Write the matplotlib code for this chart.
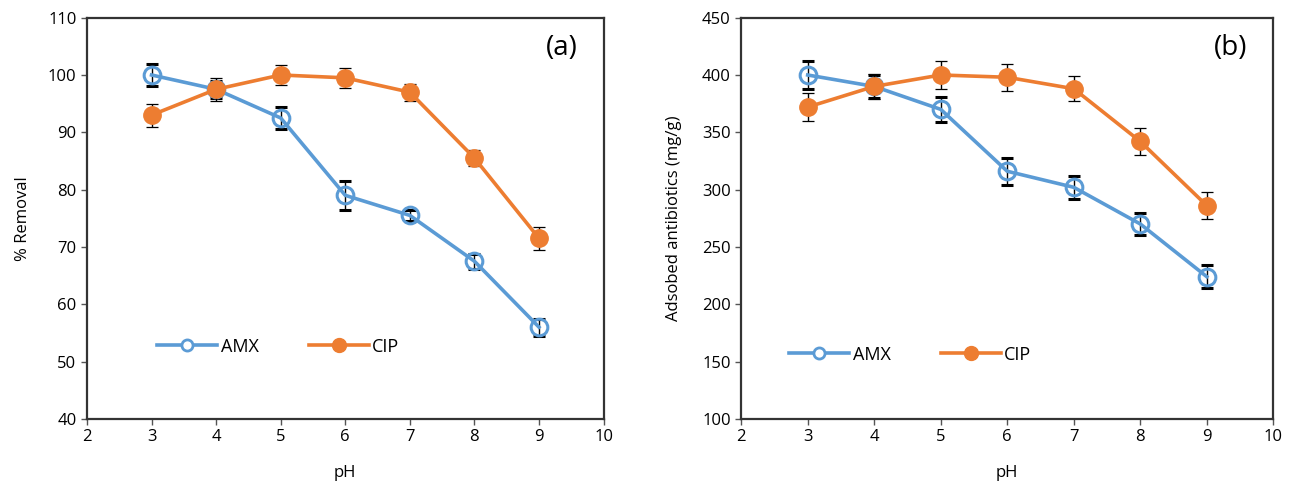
import matplotlib.pyplot as plt
from matplotlib.lines import Line2D

plt.rcParams['font.family'] = ['Open Sans', 'DejaVu Sans']

PH = [3, 4, 5, 6, 7, 8, 9]

# (a) % removal
AMX_REM = [100, 97.5, 92.5, 79, 75.5, 67.5, 56]
AMX_REM_ERR = [2, 1.5, 2, 2.5, 1, 1.3, 1.5]
CIP_REM = [93, 97.5, 100, 99.5, 97, 85.5, 71.5]
CIP_REM_ERR = [2, 2, 1.8, 1.8, 1.5, 1.4, 2]

# (b) adsorbed amount
AMX_ADS = [400, 390, 370, 316, 302, 270, 224]
AMX_ADS_ERR = [12, 10, 11, 12, 10, 10, 10]
CIP_ADS = [372, 390, 400, 398, 388, 342, 286]
CIP_ADS_ERR = [12, 11, 12, 12, 11, 12, 12]

BLUE = "#5B9BD5"
ORANGE = "#ED7D31"


def panel(ax, amx, amx_err, cip, cip_err, ylim, ystep, ylabel, tag,
          leg_anchor, ylabelpad):
    ax.errorbar(PH, amx, yerr=amx_err, color=BLUE, lw=2.6, marker="o",
                markersize=12, markerfacecolor="none", markeredgecolor=BLUE,
                markeredgewidth=2.2, ecolor="black", elinewidth=1, capsize=4,
                capthick=0.9, zorder=3)
    ax.errorbar(PH, cip, yerr=cip_err, color=ORANGE, lw=2.6, marker="o",
                markersize=12.5, markerfacecolor=ORANGE, markeredgecolor=ORANGE,
                ecolor="black", elinewidth=1, capsize=4, capthick=0.9, zorder=4)
    ax.set_xlim(2, 10)
    ax.set_xticks(range(2, 11))
    ax.set_ylim(*ylim)
    ax.set_yticks(range(ylim[0], ylim[1] + 1, ystep))
    ax.tick_params(labelsize=12, length=4, width=1, color="#555555")
    ax.set_xlabel("pH", fontsize=12, labelpad=14)
    ax.set_ylabel(ylabel, fontsize=12, labelpad=ylabelpad)
    for s in ax.spines.values():
        s.set_color("#333333")
        s.set_linewidth(1.6)
    ax.text(0.92, 0.925, tag, transform=ax.transAxes, fontsize=20,
            ha="center", va="center")
    # legend handles without error bars
    handles = [
        Line2D([], [], color=BLUE, lw=2.6, marker="o", markersize=8,
               markerfacecolor="white", markeredgecolor=BLUE, markeredgewidth=2),
        Line2D([], [], color=ORANGE, lw=2.6, marker="o", markersize=10,
               markerfacecolor=ORANGE, markeredgecolor=ORANGE),
    ]
    ax.legend(handles, ["AMX", "CIP"], loc="center left",
              bbox_to_anchor=leg_anchor, ncol=2, frameon=False, fontsize=13,
              handlelength=3.3, columnspacing=2.8, handletextpad=0.2)


fig = plt.figure(figsize=(12.98, 4.91), dpi=100)
ax1 = fig.add_axes([0.067, 0.147, 0.398, 0.817])
ax2 = fig.add_axes([0.571, 0.147, 0.410, 0.817])

panel(ax1, AMX_REM, AMX_REM_ERR, CIP_REM, CIP_REM_ERR, (40, 110), 10,
      "% Removal", "(a)", (0.105, 0.18), 12)
panel(ax2, AMX_ADS, AMX_ADS_ERR, CIP_ADS, CIP_ADS_ERR, (100, 450), 50,
      "Adsobed antibiotics (mg/g)", "(b)", (0.06, 0.16), 14)

fig.savefig("out.png", dpi=100)
